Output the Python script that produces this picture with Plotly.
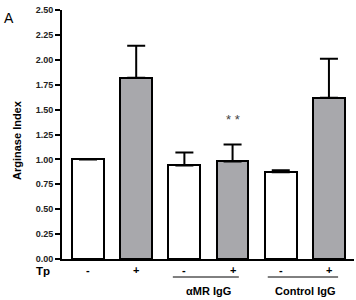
import plotly.graph_objects as go

# Data
tp_labels = ["-", "+", "-", "+", "-", "+"]
values = [1.00, 1.82, 0.94, 0.98, 0.87, 1.62]
errors = [0.0, 0.32, 0.13, 0.17, 0.02, 0.39]
colors = ["white", "#a8a8ac", "white", "#a8a8ac", "white", "#a8a8ac"]
group_labels = ["αMR IgG", "Control IgG"]
y_ticks = [0, 0.25, 0.5, 0.75, 1.0, 1.25, 1.5, 1.75, 2.0, 2.25, 2.5]

x = list(range(len(values)))
FONT = "Liberation Sans, Arial, sans-serif"

# plot area in screen pixels
L, T, W, H = 62, 10, 292, 249

def px_x(p):
    return (p - L) / W

def px_y(p):
    return (T + H - p) / H

C = dict(xanchor="center", yanchor="middle", showarrow=False)

fig = go.Figure()
fig.add_trace(go.Bar(
    x=x, y=values, width=0.66,
    marker=dict(color=colors, line=dict(color="black", width=2)),
    error_y=dict(type="data", array=errors, arrayminus=[0]*len(errors),
                 symmetric=False, color="black", thickness=2, width=9),
    showlegend=False, hoverinfo="skip",
))

fig.update_layout(
    width=356, height=300,
    margin=dict(l=L, r=356 - (L + W), t=T, b=300 - (T + H), autoexpand=False),
    paper_bgcolor="white", plot_bgcolor="white",
    font=dict(family=FONT, color="black"),
    bargap=0,
)
fig.update_xaxes(
    range=[-0.54, 5.52], showticklabels=False, ticks="", automargin=False,
    showline=True, linecolor="black", linewidth=2, showgrid=False, zeroline=False,
)
fig.update_yaxes(
    range=[0, 2.5], tickvals=y_ticks, tickformat=".2f", automargin=False,
    ticks="outside", ticklen=5, tickwidth=2, tickcolor="black",
    tickfont=dict(size=9, family=FONT, color="#222", weight="bold"),
    showline=True, linecolor="black", linewidth=2, showgrid=False, zeroline=False,
)

# y title
fig.add_annotation(x=px_x(17), y=px_y(140), xref="paper", yref="paper",
                   text="Arginase Index", textangle=-90,
                   font=dict(size=11, family=FONT, weight="bold"), **C)

# -/+ labels
for xi, lab in zip(x, tp_labels):
    fig.add_annotation(x=xi, y=px_y(270), xref="x", yref="paper", text=lab,
                       font=dict(size=11, family=FONT, weight="bold"), **C)
fig.add_annotation(x=px_x(43), y=px_y(271), xref="paper", yref="paper", text="Tp",
                   font=dict(size=11.5, family=FONT, weight="bold"), **C)

# group lines and labels
group_spans = [(1.76, 3.13), (3.73, 5.19)]
for (x0, x1), lab in zip(group_spans, group_labels):
    fig.add_shape(type="line", xref="x", yref="paper", x0=x0, x1=x1,
                  y0=px_y(277), y1=px_y(277), line=dict(color="black", width=1))
    fig.add_annotation(x=(x0 + x1) / 2 + 0.06, y=px_y(291), xref="x", yref="paper", text=lab,
                       font=dict(size=11, family=FONT, weight="bold"), **C)

# significance
fig.add_annotation(x=3, y=1.40, xref="x", yref="y", text="* *",
                   font=dict(size=13, family=FONT, color="#444"), **C)

# panel letter
fig.add_annotation(x=px_x(8.5), y=px_y(18), xref="paper", yref="paper",
                   text="A", font=dict(size=14, family=FONT), **C)

fig.write_html("out.html", config={"displayModeBar": False},
               post_script="document.body.style.margin='0';")
